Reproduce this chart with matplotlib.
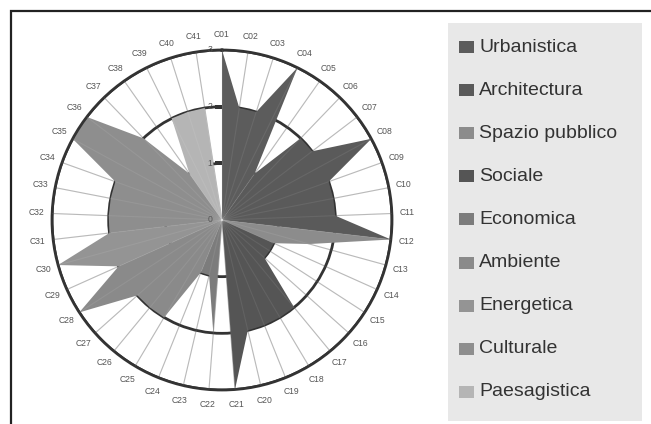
import numpy as np
import matplotlib
matplotlib.use("Agg")
import matplotlib.pyplot as plt
from matplotlib.patches import Rectangle

plt.rcParams['font.family'] = ['Liberation Sans', 'DejaVu Sans']

categories = [f"C{i:02d}" for i in range(1, 42)]

def series(first, vals):
    out = [0.0] * 41
    for k, v in enumerate(vals):
        out[first - 1 + k] = v
    return out

urbanistica     = series(1,  [3, 2, 2, 3, 1])
architectura    = series(5,  [1, 2, 2, 3, 2, 2, 2, 3])
spazio_pubblico = series(12, [3, 1.6, 1])
sociale         = series(14, [1, 1, 1, 2, 2, 2, 2, 3])
economica       = series(22, [2, 1, 1])
ambiente        = series(24, [1, 2, 2, 2, 3, 2])
energetica      = series(29, [2, 3, 2])
culturale       = series(31, [2, 2, 2, 2, 3, 3, 2, 1])
paesagistica    = series(38, [1, 2, 2, 2])

labels = ["Urbanistica", "Architectura", "Spazio pubblico", "Sociale", "Economica",
          "Ambiente", "Energetica", "Culturale", "Paesagistica"]
data = [urbanistica, architectura, spazio_pubblico, sociale, economica,
        ambiente, energetica, culturale, paesagistica]
colors = ["#5c5c5c", "#5a5a5a", "#8c8c8c", "#555555", "#7c7c7c",
          "#8a8a8a", "#949494", "#8e8e8e", "#b5b5b5"]
rticks = [0, 1, 2, 3]

W, H = 651, 424
fig = plt.figure(figsize=(W / 100, H / 100), dpi=100)
fig.patch.set_facecolor("white")

# outer frame (cut on right and bottom)
fig.patches.append(Rectangle((11 / W, -0.2), 1.2, (H - 11) / H + 0.2,
                             transform=fig.transFigure, fill=False,
                             edgecolor="#222222", linewidth=1.6))

cx, cy, R = 222, 220, 170
ax = fig.add_axes([(cx - R) / W, (H - cy - R) / H, 2 * R / W, 2 * R / H],
                  projection="polar")
ax.set_theta_zero_location("N")
ax.set_theta_direction(-1)
n = len(categories)
theta = np.arange(n) * 2 * np.pi / n
ax.set_ylim(0, 3)
ax.set_axisbelow(True)
ax.set_xticks(theta)
ax.set_xticklabels([])
ax.set_yticks(rticks[1:])
ax.set_yticklabels([])
ax.xaxis.grid(True, color="#b4b4b4", linewidth=0.8)
ax.yaxis.grid(True, color="#333333", linewidth=2.0)
ax.spines["polar"].set_color("#333333")
ax.spines["polar"].set_linewidth(2.0)
ax.tick_params(length=0)

th_closed = np.append(theta, theta[0])
for vals, col in zip(data, colors):
    r = np.append(vals, vals[0])
    ax.fill(th_closed, r, color=col, linewidth=0, zorder=2)

# spokes faintly visible through fills
for t in theta:
    ax.plot([t, t], [0, 3], color="white", alpha=0.08, linewidth=0.8, zorder=3)

for t, lab in zip(theta, categories):
    ax.text(t, 3.27, lab, ha="center", va="center", fontsize=6.2,
            color="#555555", zorder=5)

for v in rticks:
    ax.annotate(str(v), (0, v), xytext=(-12, 0), textcoords="offset pixels",
                ha="center", va="center", fontsize=6.2, color="#555555",
                annotation_clip=False, zorder=5)
ax.plot(np.zeros(2), rticks[1:3], linestyle="none", marker=0, markersize=5,
        color="#333333", markeredgewidth=1.6, zorder=4)

# legend panel
lx0, ly0, lw, lh = 448, 23, 194, 398
lax = fig.add_axes([lx0 / W, (H - ly0 - lh) / H, lw / W, lh / H])
lax.set_xlim(0, lw)
lax.set_ylim(lh, 0)
lax.set_facecolor("#e8e8e8")
for s in lax.spines.values():
    s.set_visible(False)
lax.set_xticks([])
lax.set_yticks([])
pitch = 43.1
for i, (lab, col) in enumerate(zip(labels, colors)):
    yc = 24 + i * pitch
    lax.add_patch(Rectangle((11, yc - 6), 15, 12, facecolor=col, edgecolor="none"))
    lax.text(31, yc, lab, ha="left", va="center", fontsize=14, color="#333333")

fig.savefig("out.png", dpi=100)
